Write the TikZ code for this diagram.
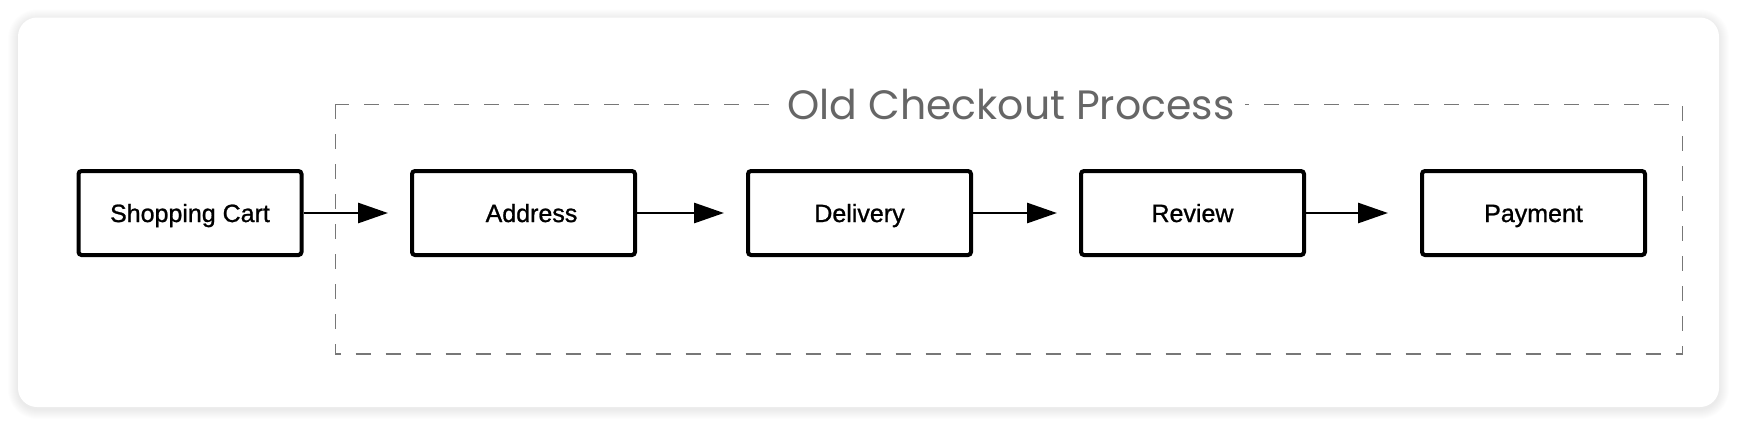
\documentclass[tikz,border=0pt]{standalone}
\usepackage{fontspec}
\setmainfont{Liberation Sans}
\newfontfamily\boxfont[FakeBold=1]{Liberation Sans}
\newfontfamily\titlefont{Poppins}
\usetikzlibrary{arrows.meta}
\definecolor{framegray}{HTML}{777777}
\definecolor{titlegray}{HTML}{666666}
\begin{document}
\begin{tikzpicture}[x=0.5pt,y=-0.5pt,
  stepbox/.style={draw=black, line width=2pt, rounded corners=1.5pt,
    minimum width=111.5pt, minimum height=42pt, inner sep=0pt,
    font=\boxfont\fontsize{12.5}{15}\selectfont, text height=9pt, text depth=0pt, fill=white},
  flow/.style={-{Triangle[length=15pt,width=10pt]}, line width=1.45pt},
  frame/.style={framegray, line width=0.65pt, dash pattern=on 7.5pt off 7.5pt},
  titlestyle/.style={fill=white, inner xsep=5pt, inner ysep=2pt, anchor=base,
    text=titlegray, font=\titlefont\fontsize{20.5}{24}\selectfont},
]
\useasboundingbox (0,0) rectangle (1737,425);
\fill[white] (0,0) rectangle (1737,425);
% card shadow
\foreach \i in {1,...,10}
  \fill[black, opacity=0.007, rounded corners={9.5pt+0.5pt*\i}]
    (18-\i,19.5-\i) rectangle (1719+\i,409+\i);
% card
\fill[white, rounded corners=9.5pt] (18,17.5) rectangle (1719,407);
% dashed group frame
\draw[frame] (335.3,104.3) rectangle (1682.3,354);
\node[titlestyle] (title) at (1011,119) {Old Checkout Process};
% steps
\node[stepbox] (sc)    at (190,213)    {Shopping Cart};
\node[stepbox] (addr)  at (523.5,213)  {\hspace{8pt}Address};
\node[stepbox] (deliv) at (859.5,213)  {Delivery};
\node[stepbox] (rev)   at (1192.5,213) {Review};
\node[stepbox] (pay)   at (1533.5,213) {Payment};
% connectors
\draw[flow, shorten >=11pt] (sc) -- (addr);
\draw[flow, shorten >=11pt] (addr) -- (deliv);
\draw[flow, shorten >=11pt] (deliv) -- (rev);
\draw[flow, shorten >=16pt] (rev) -- (pay);
\end{tikzpicture}
\end{document}
